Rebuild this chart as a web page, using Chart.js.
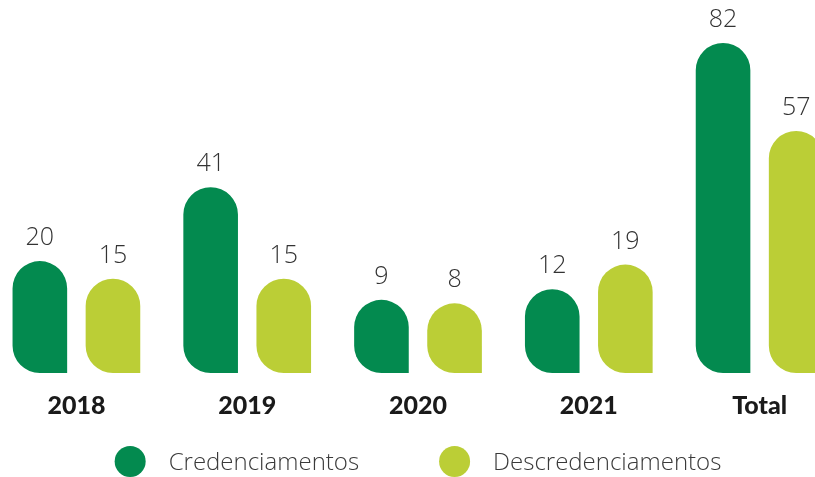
<!DOCTYPE html>
<html>
<head>
<meta charset="utf-8">
<script src="https://cdn.jsdelivr.net/npm/chart.js@4.4.1/dist/chart.umd.min.js"></script>
<style>
  html, body { margin: 0; padding: 0; background: #fff; overflow: hidden; }
  #wrap { position: relative; width: 815px; height: 477px; overflow: hidden; }
  #grafico { position: absolute; left: -9px; top: 0; }
</style>
</head>
<body>
<div id="wrap"><canvas id="grafico" width="854" height="477"></canvas></div>
<script>
const anos = ["2018", "2019", "2020", "2021", "Total"];
const credenciamentos = [20, 41, 9, 12, 82];
const descredenciamentos = [15, 15, 8, 19, 57];
const nomesSeries = ["Credenciamentos", "Descredenciamentos"];
const cores = ["#038a4f", "#bbce36"];

// eixo começa abaixo do zero, as barras saem do fundo
const yMin = -11.8;
const yMax = 94.2;

// número em cima de cada barra
const rotulosValores = {
    id: "rotulosValores",
    afterDatasetsDraw(chart) {
        const ctx = chart.ctx;
        ctx.save();
        ctx.font = "300 25px 'Open Sans'";
        ctx.fillStyle = "#333333";
        ctx.textAlign = "center";
        ctx.textBaseline = "alphabetic";
        chart.data.datasets.forEach((ds, i) => {
            chart.getDatasetMeta(i).data.forEach((bar, j) => {
                ctx.fillText(ds.data[j], bar.x, bar.y - 16);
            });
        });
        ctx.restore();
    }
};

// legenda com bolinhas embaixo do gráfico
const legendaBolinhas = {
    id: "legendaBolinhas",
    afterDraw(chart) {
        const ctx = chart.ctx;
        const raio = 15.5, espaco = 23, entre = 80;
        ctx.save();
        ctx.font = "300 24px 'Open Sans'";
        const larguras = nomesSeries.map(t => ctx.measureText(t).width);
        let total = entre;
        larguras.forEach(w => { total += raio * 2 + espaco + w; });
        let x = chart.width / 2 - total / 2;
        const y = chart.height - 15.5;
        nomesSeries.forEach((nome, i) => {
            ctx.fillStyle = cores[i];
            ctx.beginPath();
            ctx.arc(x + raio, y, raio, 0, Math.PI * 2);
            ctx.fill();
            x += raio * 2 + espaco;
            ctx.fillStyle = "#3a3a3a";
            ctx.textBaseline = "middle";
            ctx.fillText(nome, x, y + 1.5);
            x += larguras[i] + entre;
        });
        ctx.restore();
    }
};

const canto = { topLeft: 30, topRight: 30, bottomLeft: 30, bottomRight: 0 };

const grafico = new Chart(document.getElementById("grafico"), {
    type: "bar",
    data: {
        labels: anos,
        datasets: [
            {
                label: nomesSeries[0],
                data: credenciamentos,
                backgroundColor: cores[0],
            },
            {
                label: nomesSeries[1],
                data: descredenciamentos,
                backgroundColor: cores[1],
            },
        ],
    },
    options: {
        responsive: false,
        animation: false,
        layout: { padding: { top: 0, left: 0, right: 0, bottom: 38 } },
        datasets: {
            bar: {
                base: yMin,
                borderRadius: canto,
                borderSkipped: false,
                categoryPercentage: 0.856,
                barPercentage: 0.747,
            },
        },
        plugins: {
            legend: { display: false },
            tooltip: { enabled: false },
        },
        scales: {
            x: {
                grid: { display: false, drawTicks: false },
                border: { display: false },
                ticks: {
                    padding: 18,
                    color: "#1a1a1a",
                    font: { family: "Lato", size: 25, weight: 900 },
                },
            },
            y: { display: false, min: yMin, max: yMax },
        },
    },
    plugins: [rotulosValores, legendaBolinhas],
});
console.log(JSON.stringify(grafico.chartArea));
</script>
</body>
</html>
